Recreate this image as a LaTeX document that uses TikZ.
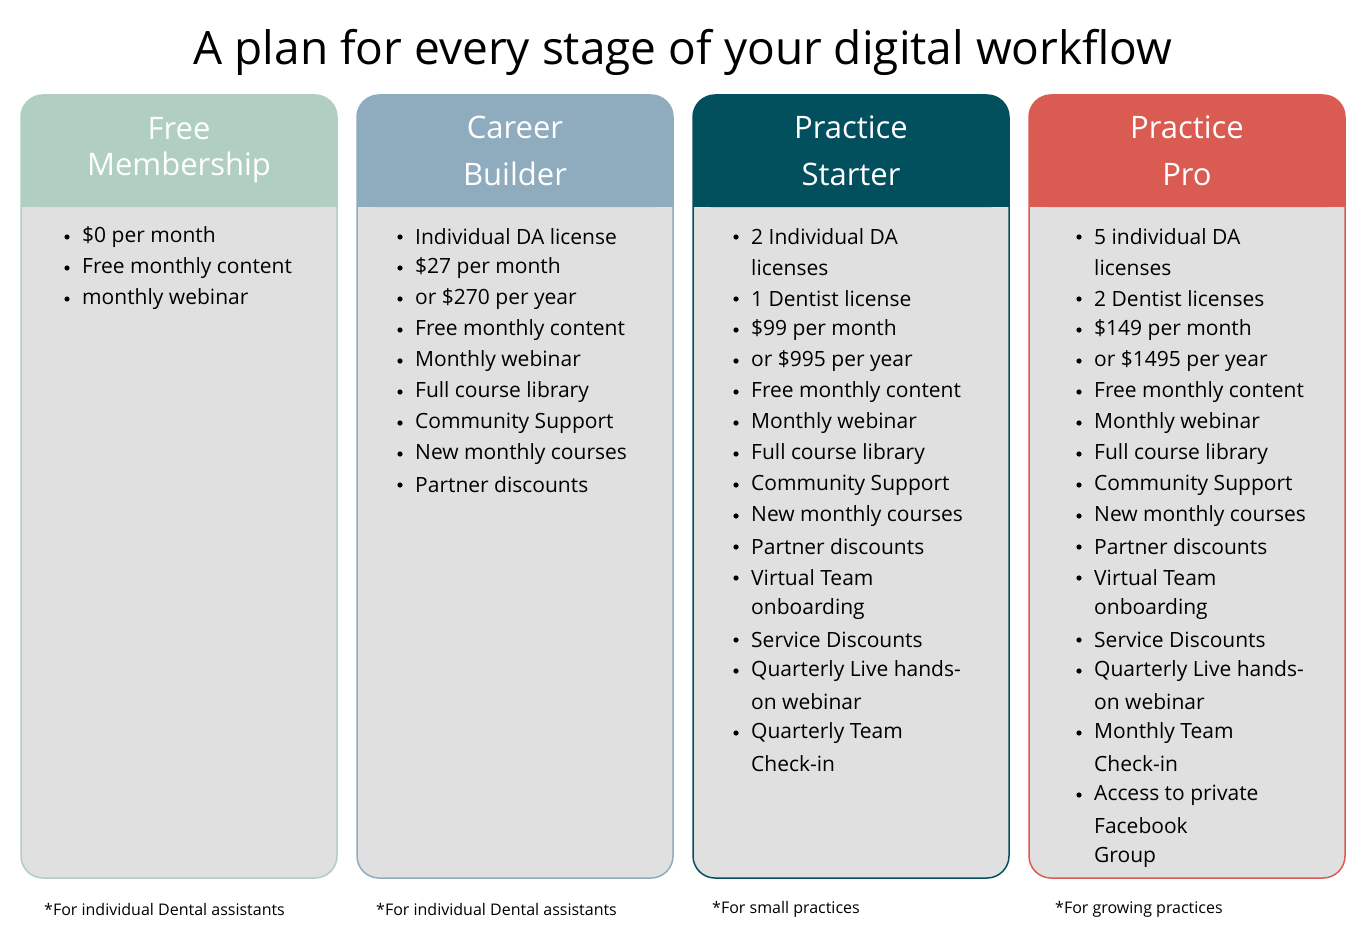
\documentclass[tikz,border=0pt]{standalone}
\usepackage{fontspec}
\setmainfont{Open Sans}
\begin{document}
\begin{tikzpicture}[x=1pt,y=-1pt,
  card/.style={draw=#1,line width=1.5pt,fill=gray!25!white!95!black,rounded corners=22pt},
  item/.style={anchor=west,inner sep=0pt,font=\fontsize{21}{25}\selectfont},
  htext/.style={white,align=center,font=\fontsize{31}{47}\selectfont},
  foot/.style={anchor=west,inner sep=0pt,font=\fontsize{16}{19}\selectfont}]
\definecolor{cA}{HTML}{B0CFC0}\definecolor{cB}{HTML}{8FACBE}
\definecolor{cC}{HTML}{024F5E}\definecolor{cD}{HTML}{D95B51}
\definecolor{body}{HTML}{E0E0E0}
\useasboundingbox[fill=white] (0,0) rectangle (1366,934);
\node[font=\fontsize{46}{50}\selectfont] (title) at (683,52) {A plan for every stage of your digital workflow};
\foreach \x/\c/\n in {21/cA/a,357/cB/b,693/cC/c,1029/cD/d}{
  \draw[draw=\c,line width=1.5pt,fill=body,rounded corners=22pt] (\x,95) rectangle (\x+316,878);
  \begin{scope}
  \clip[rounded corners=22pt] (\x,95) rectangle (\x+316,878);
  \fill[\c] (\x,95) rectangle (\x+316,207);
  \end{scope}
  \fill[\c] (\x,195) rectangle (\x+316,207);
  \fill[body] (\x+0.75,207) rectangle (\x+315.25,240);
  \fill[\c,rounded corners=18pt] (\x,150) rectangle (\x+316,207);
  \coordinate (h\n) at (\x+158,151);
}
\node[htext,text=white,font=\fontsize{31}{36}\selectfont] (ha) at (179,150) {Free\\Membership};
\node[htext] (hb) at (515,151) {Career\\Builder};
\node[htext] (hc) at (851,151) {Practice\\Starter};
\node[htext] (hd) at (1187,151) {Practice\\Pro};
% items
\foreach \k/\t [count=\i from 0] in {b/{\$0 per month},b/Free monthly content,b/monthly webinar}
  {\node[item] (a\i) at (82,237+31*\i) {\t}; \if\k b\fill (67,237+31*\i) circle (2.6);\fi}
\foreach \k/\t [count=\i from 0] in {b/Individual DA license,b/{\$27 per month},b/{or \$270 per year},b/Free monthly content,b/Monthly webinar,b/Full course library,b/Community Support,b/New monthly courses,b/Partner discounts}
  {\node[item] (b\i) at (415,237+31*\i) {\t}; \if\k b\fill (400,237+31*\i) circle (2.6);\fi}
\foreach \k/\t [count=\i from 0] in {b/2 Individual DA,c/licenses,b/1 Dentist license,b/{\$99 per month},b/{or \$995 per year},b/Free monthly content,b/Monthly webinar,b/Full course library,b/Community Support,b/New monthly courses,b/Partner discounts,b/Virtual Team,c/onboarding,b/Service Discounts,b/Quarterly Live hands-,c/on webinar,b/Quarterly Team,c/Check-in}
  {\node[item] (c\i) at (751,237+31*\i) {\t}; \if\k b\fill (736,237+31*\i) circle (2.6);\fi}
\foreach \k/\t [count=\i from 0] in {b/5 individual DA,c/licenses,b/2 Dentist licenses,b/{\$149 per month},b/{or \$1495 per year},b/Free monthly content,b/Monthly webinar,b/Full course library,b/Community Support,b/New monthly courses,b/Partner discounts,b/Virtual Team,c/onboarding,b/Service Discounts,b/Quarterly Live hands-,c/on webinar,b/Monthly Team,c/Check-in,b/Access to private,c/Facebook/WhatsApp,c/Group}
  {\node[item] (d\i) at (1094,237+31*\i) {\t}; \if\k b\fill (1079,237+31*\i) circle (2.6);\fi}
\node[foot] (fa) at (44,909) {*For individual Dental assistants};
\node[foot] (fb) at (376,909) {*For individual Dental assistants};
\node[foot] (fc) at (712,909) {*For small practices};
\node[foot] (fd) at (1055,909) {*For growing practices};
\end{tikzpicture}
\end{document}
